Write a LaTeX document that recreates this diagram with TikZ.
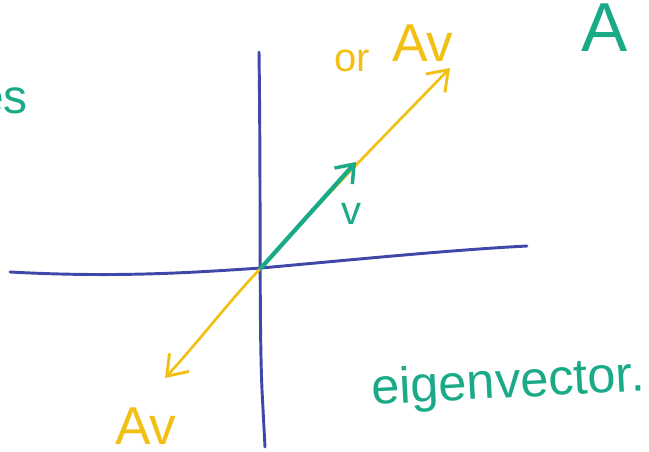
\documentclass[tikz,border=0pt]{standalone}
\usepackage{fontspec}
\setmainfont{Liberation Sans}
\usetikzlibrary{arrows.meta}
\definecolor{axisblue}{HTML}{3F48A8}
\definecolor{penyellow}{HTML}{F2C014}
\definecolor{pengreen}{HTML}{1BAA87}
\tikzset{
  axisline/.style={draw=axisblue, line width=2.2pt, line cap=round},
  yline/.style={draw=penyellow, line width=2pt, line cap=round, line join=round},
  gline/.style={draw=pengreen, line width=3.2pt, line cap=round, line join=round},
  ybarb/.style={-{Straight Barb[length=14pt,width=20pt,line width=2.2pt]}},
  gbarb/.style={-{Straight Barb[length=12pt,width=18pt,line width=2.6pt]}},
  ytext/.style={text=penyellow, inner sep=0pt},
  gtext/.style={text=pengreen, inner sep=0pt},
}
\begin{document}
\begin{tikzpicture}[x=0.75pt,y=-0.75pt]
\useasboundingbox (0,0) rectangle (649,452);
% axes
\coordinate (vtop) at (259,52);
\coordinate (vbot) at (265,447);
\coordinate (hleft) at (10,272);
\coordinate (hright) at (527,246);
\coordinate (o) at (261,268);
\draw[axisline] (vtop) .. controls (261,200) and (259,320) .. (262,390) -- (vbot);
\draw[axisline] (hleft) .. controls (120,278) and (200,272) .. (o) .. controls (350,260) and (450,250) .. (hright);
% yellow line Av, both directions
\coordinate (avneg) at (165,378);
\coordinate (avpos) at (450,68);
\draw[yline,ybarb] (o) .. controls (330,190) and (400,120) .. (avpos);
\draw[yline,ybarb] (o) .. controls (230,300) and (200,340) .. (avneg);
% green v
\coordinate (vtip) at (356,162);
\draw[gline,gbarb] (o) -- (vtip);
% labels
\node[ytext, font=\fontsize{30}{30}\selectfont, anchor=base] (or) at (352,72) {or};
\node[ytext, font=\fontsize{40}{40}\selectfont, anchor=base] (avtop) at (423,62) {Av};
\node[ytext, font=\fontsize{40}{40}\selectfont, anchor=base] (avbot) at (146,444) {Av};
\node[gtext, font=\fontsize{30}{30}\selectfont, anchor=base] (vlab) at (351,224) {v};
\node[gtext, font=\fontsize{52}{52}\selectfont, anchor=base] (Alab) at (605,52) {A};
\node[gtext, font=\fontsize{36}{36}\selectfont, anchor=base east] (es) at (28,114) {es};
\node[gtext, font=\fontsize{38}{38}\selectfont, anchor=base west, rotate=3] (eig) at (372,405) {eigenvector.};
\end{tikzpicture}
\end{document}
